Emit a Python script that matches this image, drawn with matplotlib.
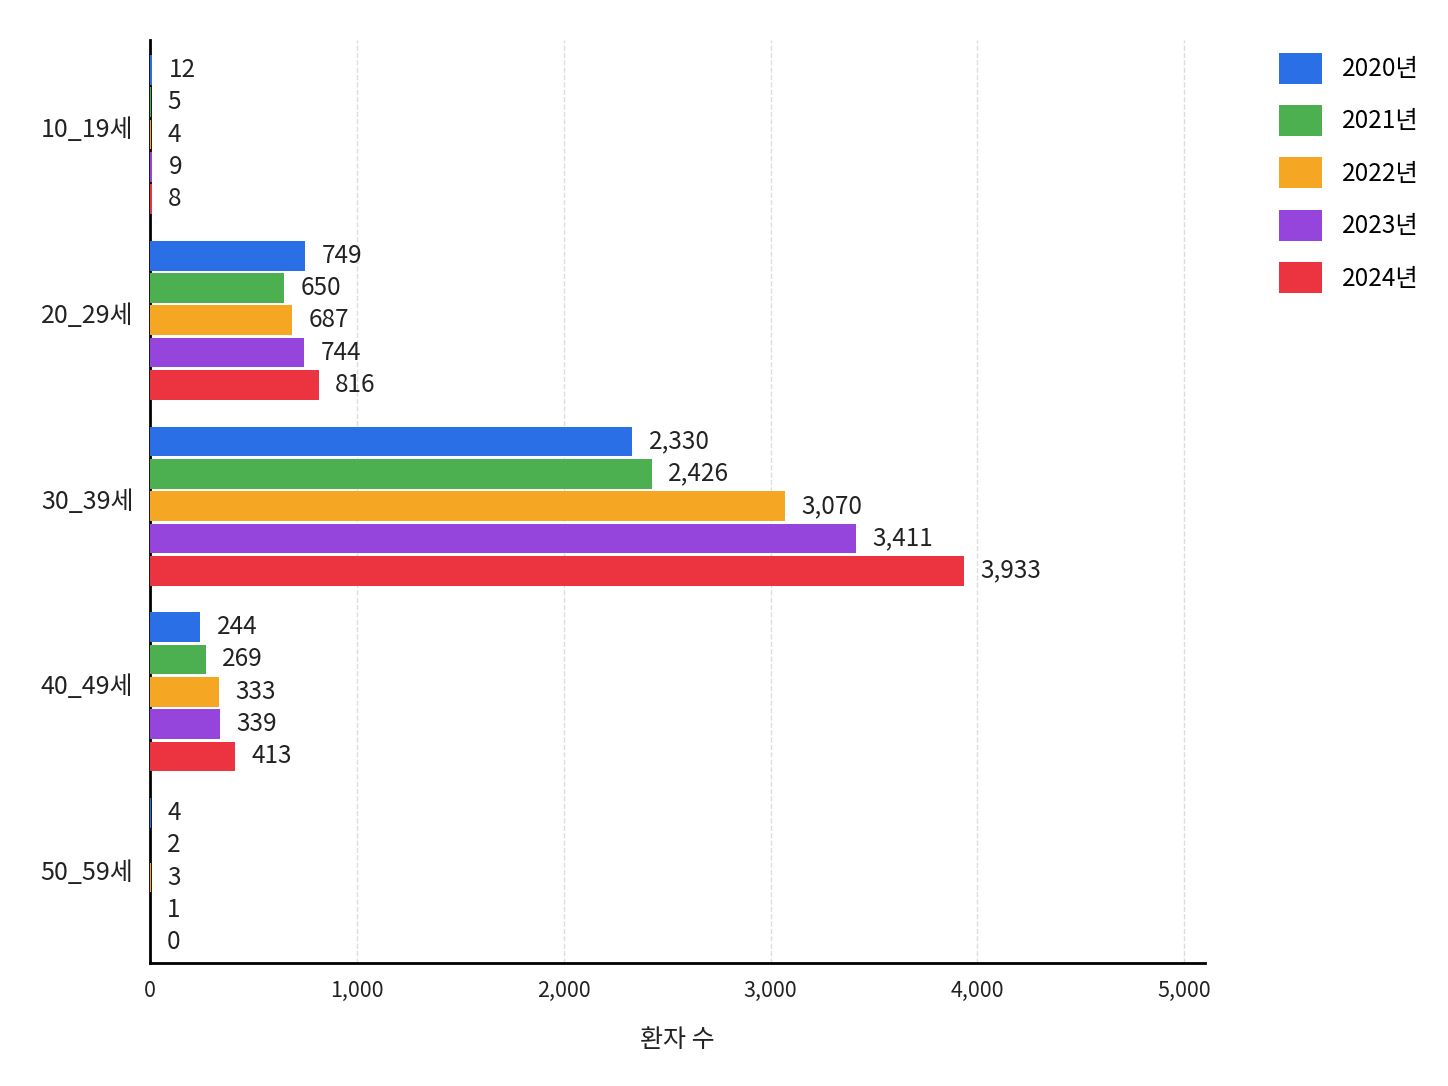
import matplotlib
matplotlib.use('Agg')

import matplotlib.pyplot as plt
import numpy as np

plt.rcParams['font.family'] = ['Noto Sans CJK KR', 'DejaVu Sans']

ages = ['10_19세', '20_29세', '30_39세', '40_49세', '50_59세']
years = ['2020년', '2021년', '2022년', '2023년', '2024년']
v2020 = [12, 749, 2330, 244, 4]
v2021 = [5, 650, 2426, 269, 2]
v2022 = [4, 687, 3070, 333, 3]
v2023 = [9, 744, 3411, 339, 1]
v2024 = [8, 816, 3933, 413, 0]
colors = ['#2b6fe6', '#4caf50', '#f5a623', '#9545dc', '#ec3340']

series = [v2020, v2021, v2022, v2023, v2024]

fig = plt.figure(figsize=(14.48, 10.86), dpi=100)
ax = fig.add_axes([0.1036, 0.1133, 0.7285, 0.85])

pos = np.arange(len(ages))
step = 0.174
h = 0.16
for i, (vals, year, c) in enumerate(zip(series, years, colors)):
	y = pos + (i - 2) * step
	ax.barh(y, vals, height=h, color=c, label=year, zorder=3)
	for yy, v in zip(y, vals):
		ax.text(v + 80, yy, f'{v:,}', va='center', ha='left', fontsize=17.5, color='#222222')

ax.set_yticks(pos - 0.04)
ax.set_yticklabels(ages, fontsize=18)
ax.set_ylim(4.46, -0.51)
ax.set_xlim(0, 5100)
ax.set_xticks([0, 1000, 2000, 3000, 4000, 5000])
ax.set_xticklabels(['0', '1,000', '2,000', '3,000', '4,000', '5,000'], fontsize=15.5)
ax.tick_params(length=0, pad=12, colors='#222222')
ax.set_xlabel('환자 수', fontsize=18, labelpad=18, color='#222222')

ax.grid(axis='x', color='#dddddd', linestyle='--', linewidth=1, zorder=0)
for s in ['top', 'right']:
	ax.spines[s].set_visible(False)
ax.spines['left'].set_linewidth(2)
ax.spines['bottom'].set_linewidth(2)

ax.legend(loc='upper left', bbox_to_anchor=(1.05, 1.01), frameon=False, fontsize=17.5,
	handlelength=1.75, handleheight=1.6, labelspacing=0.87, handletextpad=0.8)

fig.savefig('out.png', dpi=100)
